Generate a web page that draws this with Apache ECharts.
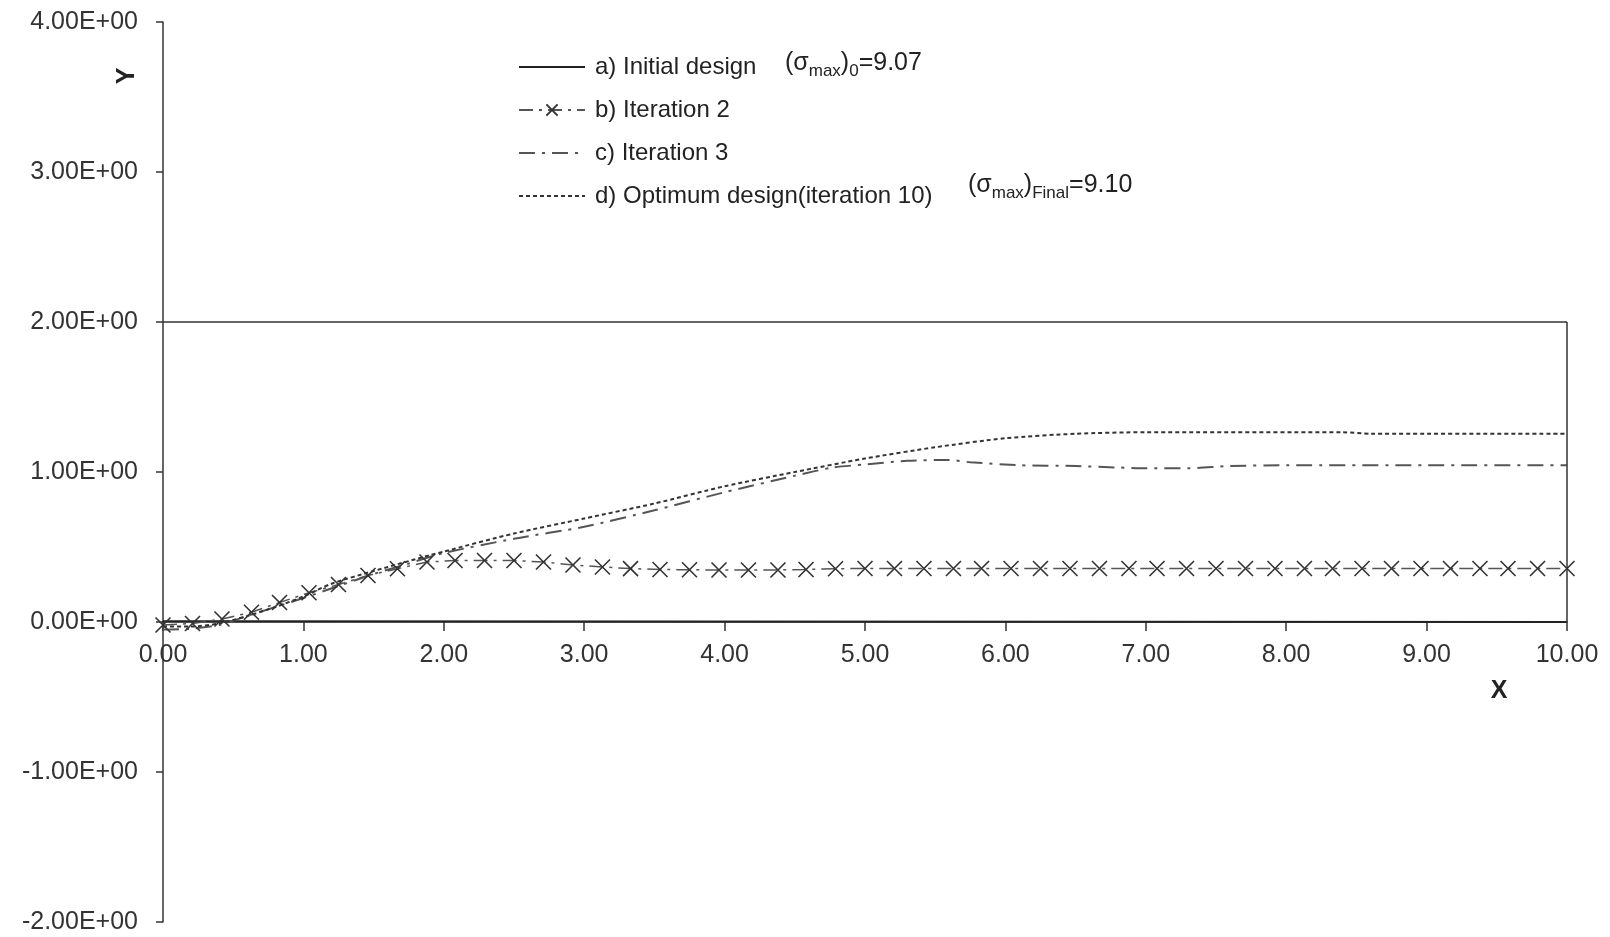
<!DOCTYPE html>
<html>
<head>
<meta charset="utf-8">
<script src="https://cdn.jsdelivr.net/npm/echarts@6/dist/echarts.min.js"></script>
<style>
html,body{margin:0;padding:0;background:#fff;}
#chart{width:1610px;height:937px;}
</style>
</head>
<body>
<div id="chart"></div>
<script>
// ---- data ----
var xTickValues = [0,1,2,3,4,5,6,7,8,9,10];
var xTickLabels = ['0.00','1.00','2.00','3.00','4.00','5.00','6.00','7.00','8.00','9.00','10.00'];
var yTickValues = [-2,-1,0,1,2,3,4];
var yTickLabels = ['-2.00E+00','-1.00E+00','0.00E+00','1.00E+00','2.00E+00','3.00E+00','4.00E+00'];

var seriesNames = ['a) Initial design','b) Iteration 2','c) Iteration 3','d) Optimum design(iteration 10)'];

var aX = [0, 0.45, 10];
var aY = [0.005, 0.005, 0];

var bX = [0,0.21,0.42,0.63,0.83,1.04,1.25,1.46,1.67,1.88,2.08,2.29,2.5,2.71,2.92,3.13,3.33,3.54,3.75,3.96,4.17,4.38,4.58,4.79,5.0,5.21,5.42,5.63,5.83,6.04,6.25,6.46,6.67,6.88,7.08,7.29,7.5,7.71,7.92,8.13,8.33,8.54,8.75,8.96,9.17,9.38,9.58,9.79,10.0];
var bY = [-0.02,-0.01,0.02,0.065,0.13,0.195,0.25,0.31,0.355,0.40,0.41,0.41,0.41,0.40,0.38,0.367,0.356,0.35,0.348,0.347,0.347,0.347,0.35,0.355,0.357,0.357,0.357,0.357,0.357,0.357,0.357,0.357,0.357,0.357,0.357,0.357,0.357,0.357,0.357,0.357,0.357,0.357,0.357,0.357,0.357,0.357,0.357,0.357,0.357];

var cX = [0,0.2,0.4,0.6,0.8,1.0,1.25,1.5,1.75,2.0,2.5,3.0,3.5,4.0,4.5,4.77,5.0,5.3,5.6,5.75,6.1,6.5,6.8,7.0,7.3,7.6,8.0,9.0,10.0];
var cY = [-0.05,-0.045,-0.02,0.04,0.10,0.16,0.24,0.32,0.39,0.46,0.555,0.635,0.745,0.865,0.975,1.03,1.05,1.075,1.08,1.065,1.045,1.04,1.03,1.025,1.025,1.04,1.045,1.045,1.045];

var dX = [0,0.2,0.4,0.6,0.8,1.0,1.2,1.5,1.9,2.0,2.5,3.0,3.5,4.0,4.5,5.0,5.5,6.0,6.5,7.0,8.4,8.6,10.0];
var dY = [-0.03,-0.03,-0.01,0.04,0.10,0.17,0.255,0.34,0.445,0.47,0.59,0.69,0.79,0.905,1.0,1.09,1.165,1.225,1.255,1.265,1.265,1.255,1.255];

function zip(xs, ys){ var r=[]; for(var i=0;i<xs.length;i++){ r.push([xs[i], ys[i]]); } return r; }

var FONT = '"Liberation Sans", Arial, sans-serif';
var crossPath = 'path://M0,0L10,10M10,0L0,10';
var hiddenIcon = {color: 'rgba(0,0,0,0)', borderColor: 'rgba(0,0,0,0)', borderWidth: 0, opacity: 0};

var chart = echarts.init(document.getElementById('chart'), null, {renderer:'canvas'});
var option = {
  backgroundColor: '#fff',
  animation: false,
  grid: {left: 163, right: 43, top: 22, bottom: 15, containLabel: false, outerBoundsMode: 'none'},
  legend: {
    orient: 'vertical',
    left: 513,
    top: 50,
    itemWidth: 66,
    itemHeight: 14,
    itemGap: 19,
    data: [
      {name: seriesNames[0], itemStyle: hiddenIcon},
      {name: seriesNames[1]},
      {name: seriesNames[2], itemStyle: hiddenIcon},
      {name: seriesNames[3], itemStyle: hiddenIcon}
    ],
    textStyle: {fontFamily: FONT, fontSize: 24, color: '#222', padding: [0,0,0,5]}
  },
  xAxis: {
    type: 'value',
    min: 0, max: 10, interval: 1,
    position: 'bottom',
    offset: -300,
    axisLine: {show: true, onZero: false, lineStyle: {color: '#333', width: 1.5}},
    axisTick: {show: true, inside: false, length: 9, lineStyle: {color: '#333', width: 1.5}},
    splitLine: {show: false},
    axisLabel: {
      margin: 21, color: '#333', fontFamily: FONT, fontSize: 25,
      formatter: function(v){ var i = xTickValues.indexOf(v); return i >= 0 ? xTickLabels[i] : ''; }
    }
  },
  yAxis: {
    type: 'value',
    min: -2, max: 4, interval: 1,
    axisLine: {show: true, onZero: false, lineStyle: {color: '#333', width: 1.5}},
    axisTick: {show: true, inside: false, length: 7, lineStyle: {color: '#333', width: 1.5}},
    splitLine: {show: false},
    axisLabel: {
      margin: 25, color: '#333', fontFamily: FONT, fontSize: 25,
      formatter: function(v){ var i = yTickValues.indexOf(v); return i >= 0 ? yTickLabels[i] : ''; }
    }
  },
  series: [
    {
      name: seriesNames[0], type: 'line', data: zip(aX, aY),
      symbol: 'none', lineStyle: {color: '#222', width: 2, type: 'solid'}, itemStyle: {color: '#222'},
      z: 3,
      markLine: {
        silent: true, symbol: 'none', label: {show: false},
        lineStyle: {color: '#333', width: 1.5, type: 'solid'},
        data: [
          [{coord: [0, 2]}, {coord: [10, 2]}],
          [{coord: [10, 2]}, {coord: [10, 0]}]
        ]
      }
    },
    {
      name: seriesNames[1], type: 'line', data: zip(bX, bY),
      symbol: crossPath, symbolSize: 15, showAllSymbol: true,
      lineStyle: {color: '#555', width: 1.5, type: [14, 6, 3, 6]},
      itemStyle: {color: '#333', borderColor: '#333', borderWidth: 1.6}
    },
    {
      name: seriesNames[2], type: 'line', data: zip(cX, cY), smooth: 0.25,
      symbol: 'none', lineStyle: {color: '#555', width: 2, type: [16, 7, 3, 7]}, itemStyle: {color: '#555'}
    },
    {
      name: seriesNames[3], type: 'line', data: zip(dX, dY), smooth: 0.25,
      symbol: 'none', lineStyle: {color: '#333', width: 2, type: [4, 3]}, itemStyle: {color: '#333'}
    }
  ],
  graphic: [
    {type: 'text', left: 785, top: 51, style: {
      text: '(σ{s|max}){s|0}=9.07', font: '25px ' + FONT, fill: '#222',
      rich: {s: {fontSize: 17, fontFamily: FONT, fill: '#222', verticalAlign: 'top', lineHeight: 17, padding: [12,0,0,0]}}
    }},
    {type: 'text', left: 968, top: 173, style: {
      text: '(σ{s|max}){s|Final}=9.10', font: '25px ' + FONT, fill: '#222',
      rich: {s: {fontSize: 17, fontFamily: FONT, fill: '#222', verticalAlign: 'top', lineHeight: 17, padding: [12,0,0,0]}}
    }},
    {type: 'text', x: 1499, y: 691, style: {text: 'X', font: 'bold 25px ' + FONT, fill: '#222', align: 'center', verticalAlign: 'middle'}},
    {type: 'text', x: 127, y: 76, rotation: Math.PI / 2, style: {text: 'Y', font: 'bold 25px ' + FONT, fill: '#222', align: 'center', verticalAlign: 'middle'}}
  ]
};
chart.setOption(option);
</script>
</body>
</html>
